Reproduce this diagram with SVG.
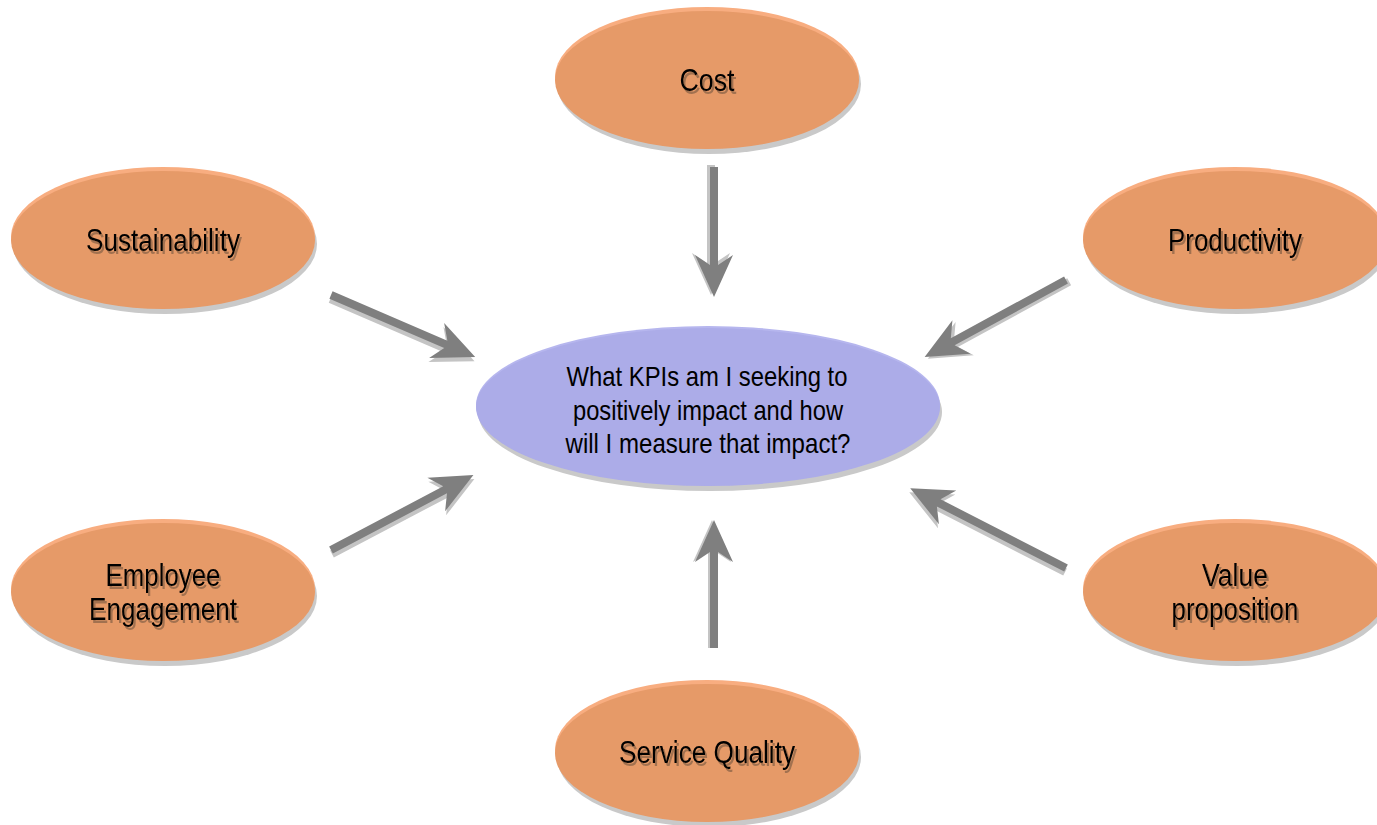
<svg xmlns="http://www.w3.org/2000/svg" width="1377" height="825" viewBox="0 0 1377 825">
<defs>
<filter id="tshadow" x="-10%" y="-30%" width="120%" height="160%">
  <feDropShadow dx="2" dy="3" stdDeviation="0.6" flood-color="#8a6446" flood-opacity="0.75"/>
</filter>
</defs>
<style>
.sh{fill:#c9c9c9}
.rim{fill:#f8ad80}
.org{fill:#e69a68}
.blu{fill:#acace8}
.brim{fill:#b6b6ee}
.t{font-family:"Liberation Sans",Arial,sans-serif;font-size:31px;fill:#000;text-anchor:middle;filter:url(#tshadow)}
.ct{font-family:"Liberation Sans",Arial,sans-serif;font-size:28px;fill:#000;text-anchor:middle}
.arr{fill:#7f7f7f}
.arrs{fill:#c4c4c4}
</style>
<rect width="1377" height="825" fill="#fff"/>
<g id="connectors">
  <g transform="translate(714,167) rotate(90)">
    <polygon class="arrs" transform="translate(-2,3)" points="0,-4 98,-4 88,-19 130,0 88,19 98,4 0,4"/>
    <polygon class="arr" points="0,-4 98,-4 88,-19 130,0 88,19 98,4 0,4"/>
  </g>
  <g transform="translate(331,295) rotate(23.3)">
    <polygon class="arrs" transform="translate(1,4)" points="0,-4 125,-4 115,-19 157,0 115,19 125,4 0,4"/>
    <polygon class="arr" points="0,-4 125,-4 115,-19 157,0 115,19 125,4 0,4"/>
  </g>
  <g transform="translate(1066,280) rotate(151.4)">
    <polygon class="arrs" transform="translate(-2,-3)" points="0,-4 129,-4 119,-19 161,0 119,19 129,4 0,4"/>
    <polygon class="arr" points="0,-4 129,-4 119,-19 161,0 119,19 129,4 0,4"/>
  </g>
  <g transform="translate(331,550) rotate(-27.8)">
    <polygon class="arrs" transform="translate(-1,4)" points="0,-4 129,-4 119,-19 161,0 119,19 129,4 0,4"/>
    <polygon class="arr" points="0,-4 129,-4 119,-19 161,0 119,19 129,4 0,4"/>
  </g>
  <g transform="translate(1066,568) rotate(-152.9)">
    <polygon class="arrs" transform="translate(-1,-4)" points="0,-4 143,-4 133,-19 175,0 133,19 143,4 0,4"/>
    <polygon class="arr" points="0,-4 143,-4 133,-19 175,0 133,19 143,4 0,4"/>
  </g>
  <g transform="translate(714,648) rotate(-90)">
    <polygon class="arrs" transform="translate(0,-2)" points="0,-4 96,-4 86,-19 128,0 86,19 96,4 0,4"/>
    <polygon class="arr" points="0,-4 96,-4 86,-19 128,0 86,19 96,4 0,4"/>
  </g>
</g>
<g id="center">
  <ellipse class="sh" cx="710" cy="412" rx="232" ry="79"/>
  <ellipse class="brim" cx="708" cy="405" rx="232" ry="79"/>
  <ellipse class="blu" cx="708" cy="407" rx="232" ry="79"/>
  <text class="ct" x="707" y="386" textLength="281" lengthAdjust="spacingAndGlyphs">What KPIs am I seeking to</text>
  <text class="ct" x="708" y="420" textLength="270" lengthAdjust="spacingAndGlyphs">positively impact and how</text>
  <text class="ct" x="708" y="453" textLength="285" lengthAdjust="spacingAndGlyphs">will I measure that impact?</text>
</g>
<g id="cost">
  <ellipse class="sh" cx="709" cy="84" rx="152" ry="70"/>
  <ellipse class="rim" cx="707" cy="77" rx="152" ry="70"/>
  <ellipse class="org" cx="707" cy="80" rx="152" ry="69"/>
  <text class="t" x="707" y="91" textLength="55" lengthAdjust="spacingAndGlyphs">Cost</text>
</g>
<g id="sustainability">
  <ellipse class="sh" cx="165" cy="244" rx="152" ry="70"/>
  <ellipse class="rim" cx="163" cy="237" rx="152" ry="70"/>
  <ellipse class="org" cx="163" cy="240" rx="152" ry="69"/>
  <text class="t" x="163" y="251" textLength="154" lengthAdjust="spacingAndGlyphs">Sustainability</text>
</g>
<g id="productivity">
  <ellipse class="sh" cx="1237" cy="244" rx="152" ry="70"/>
  <ellipse class="rim" cx="1235" cy="237" rx="152" ry="70"/>
  <ellipse class="org" cx="1235" cy="240" rx="152" ry="69"/>
  <text class="t" x="1235" y="251" textLength="134" lengthAdjust="spacingAndGlyphs">Productivity</text>
</g>
<g id="employee-engagement">
  <ellipse class="sh" cx="165" cy="596" rx="152" ry="70"/>
  <ellipse class="rim" cx="163" cy="589" rx="152" ry="70"/>
  <ellipse class="org" cx="163" cy="592" rx="152" ry="69"/>
  <text class="t" x="163" y="586" textLength="115" lengthAdjust="spacingAndGlyphs">Employee</text>
  <text class="t" x="163" y="620" textLength="148" lengthAdjust="spacingAndGlyphs">Engagement</text>
</g>
<g id="value-proposition">
  <ellipse class="sh" cx="1237" cy="596" rx="152" ry="70"/>
  <ellipse class="rim" cx="1235" cy="589" rx="152" ry="70"/>
  <ellipse class="org" cx="1235" cy="592" rx="152" ry="69"/>
  <text class="t" x="1235" y="586" textLength="66" lengthAdjust="spacingAndGlyphs">Value</text>
  <text class="t" x="1235" y="620" textLength="127" lengthAdjust="spacingAndGlyphs">proposition</text>
</g>
<g id="service-quality">
  <ellipse class="sh" cx="709" cy="757" rx="152" ry="70"/>
  <ellipse class="rim" cx="707" cy="750" rx="152" ry="70"/>
  <ellipse class="org" cx="707" cy="753" rx="152" ry="69"/>
  <text class="t" x="707" y="763" textLength="176" lengthAdjust="spacingAndGlyphs">Service Quality</text>
</g>
</svg>
